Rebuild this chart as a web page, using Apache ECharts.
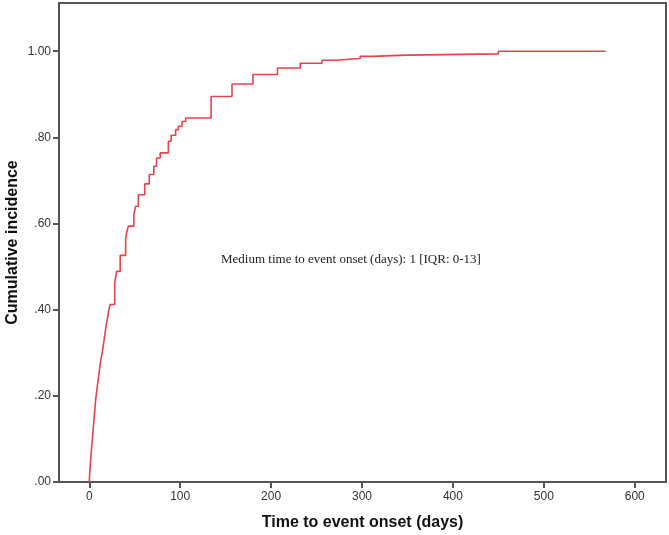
<!DOCTYPE html>
<html>
<head>
<meta charset="utf-8">
<script src="https://cdn.jsdelivr.net/npm/echarts@6/dist/echarts.min.js"></script>
<style>
html,body{margin:0;padding:0;background:#fff;}
#chart{width:669px;height:535px;}
</style>
</head>
<body>
<div id="chart"></div>
<script>
// Step points: day of event and cumulative incidence after it
var days = [0, 0.5, 1, 2, 3, 4, 5, 6, 7, 8, 9, 10, 11, 12, 13, 14, 15, 16, 17, 18, 19, 20, 21, 22, 23,
  28, 29, 30, 34, 40, 41, 43, 49, 51, 54, 61, 66, 71, 74, 78, 87, 90, 95, 98, 102, 106,
  134, 157, 180, 207, 232, 256, 271, 298, 311, 349, 450, 568];
var incidence = [0, 0.02, 0.036, 0.065, 0.09, 0.115, 0.14, 0.165, 0.19, 0.208, 0.225, 0.24, 0.257, 0.274, 0.287, 0.298, 0.311, 0.325, 0.34, 0.355, 0.368, 0.38, 0.393, 0.404, 0.412,
  0.462, 0.475, 0.489, 0.526, 0.564, 0.578, 0.594, 0.621, 0.64, 0.667, 0.692, 0.714, 0.733, 0.752, 0.764, 0.791, 0.805, 0.818, 0.826, 0.837, 0.845,
  0.895, 0.924, 0.946, 0.961, 0.972, 0.979, 0.983, 0.988, 0.991, 0.994, 1.0, 1.0];
var xTicks = [0, 100, 200, 300, 400, 500, 600];
var yTicks = [0, 0.2, 0.4, 0.6, 0.8, 1.0];
var yTickLabels = ['.00', '.20', '.40', '.60', '.80', '1.00'];
var xTitle = 'Time to event onset (days)';
var yTitle = 'Cumulative incidence';
var note = 'Medium time to event onset (days): 1 [IQR: 0-13]';

var seriesData = days.map(function (d, i) { return [d, incidence[i]]; });
var axisColor = '#555555';

var chart = echarts.init(document.getElementById('chart'), null, {renderer: 'canvas'});
chart.setOption({
  animation: false,
  backgroundColor: '#ffffff',
  grid: {left: 59, right: 3, top: 3, bottom: 53, show: true, borderColor: axisColor, borderWidth: 2,
    backgroundColor: '#ffffff', containLabel: false, outerBoundsMode: 'none'},
  xAxis: {
    type: 'value', min: -33.3, max: 634.4,
    name: xTitle, nameLocation: 'middle', nameGap: 33, nameMoveOverlap: false,
    nameTextStyle: {fontFamily: 'Liberation Sans', fontWeight: 'bold', fontSize: 16, color: '#111'},
    axisLine: {show: true, onZero: false, lineStyle: {color: axisColor, width: 2}},
    axisTick: {show: true, length: 6, customValues: xTicks, lineStyle: {color: axisColor, width: 2}},
    axisLabel: {customValues: xTicks, margin: 9, fontFamily: 'Liberation Sans', fontSize: 12, color: '#333'},
    splitLine: {show: false}
  },
  yAxis: {
    type: 'value', min: 0, max: 1.112,
    name: yTitle, nameLocation: 'middle', nameGap: 38, nameRotate: 90, nameMoveOverlap: false,
    nameTextStyle: {fontFamily: 'Liberation Sans', fontWeight: 'bold', fontSize: 16, color: '#111'},
    axisLine: {show: true, onZero: false, lineStyle: {color: axisColor, width: 2}},
    axisTick: {show: true, length: 6, customValues: yTicks, lineStyle: {color: axisColor, width: 2}},
    axisLabel: {customValues: yTicks, margin: 8, fontFamily: 'Liberation Sans', fontSize: 12, color: '#333',
      formatter: function (v) {
        var idx = yTicks.findIndex(function (t) { return Math.abs(t - v) < 1e-6; });
        return idx >= 0 ? yTickLabels[idx] : '';
      }},
    splitLine: {show: false}
  },
  graphic: [{
    type: 'text', left: 221, top: 253,
    style: {text: note, font: '13px "Liberation Serif"', fill: '#222'}
  }],
  series: [{
    type: 'line', step: 'end', data: seriesData, showSymbol: false, symbol: 'none',
    lineStyle: {color: '#e4434f', width: 1.6}
  }]
});
</script>
</body>
</html>
